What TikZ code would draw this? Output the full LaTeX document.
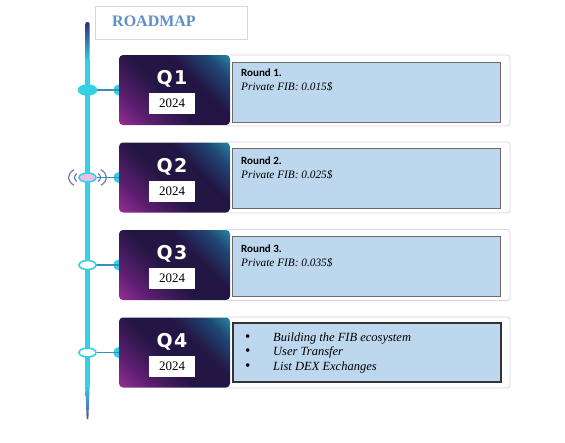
\documentclass[tikz,border=0pt]{standalone}
\usepackage{fontspec}
\setmainfont{Liberation Serif}
\newfontfamily\roundfont{Carlito}
\newfontfamily\qfont[LetterSpace=8]{DejaVu Sans}
\usepackage{tikz}
\usetikzlibrary{positioning,backgrounds,shapes.geometric}

\definecolor{tlcyan}{HTML}{33D0E6}
\definecolor{tlnavy}{HTML}{2B2F7A}
\definecolor{tlpurple}{HTML}{5B4E9E}
\definecolor{linkblue}{HTML}{3B8DB3}
\definecolor{infofill}{HTML}{BDD7EE}
\definecolor{infoline}{HTML}{6B6B6B}
\definecolor{paleline}{HTML}{D9D3E3}
\definecolor{titleblue}{HTML}{5B8FC9}
\definecolor{dotpink}{HTML}{E9BFE3}
\definecolor{wavegray}{HTML}{6A7DA8}
\definecolor{cmag}{HTML}{B235A8}
\definecolor{cplum}{HTML}{5A1E6E}
\definecolor{cnavy}{HTML}{231645}
\definecolor{cblue}{HTML}{1F4775}
\definecolor{cteal}{HTML}{2DB4C2}

\pgfdeclarehorizontalshading{cardshade}{100bp}{color(0bp)=(cmag); color(8bp)=(cmag); color(28bp)=(cplum); color(45bp)=(cnavy); color(62bp)=(cnavy); color(76bp)=(cblue); color(92bp)=(cteal); color(100bp)=(cteal)}

\begin{document}
\begin{tikzpicture}[x=1pt, y=-1pt]
		\tikzstyle{card}=[rounded corners=4pt, shading=cardshade, shading angle=45, minimum width=111pt, minimum height=70pt, inner sep=0pt]
		\tikzstyle{outerbox}=[rounded corners=3pt, draw=paleline, fill=white, line width=0.8pt, minimum width=285pt, minimum height=71pt, inner sep=0pt]
		\tikzstyle{infobox}=[draw=infoline, fill=infofill, line width=0.9pt, minimum width=268pt, minimum height=60pt, inner sep=0pt]
		\tikzstyle{yearbox}=[fill=white, minimum width=46pt, minimum height=21pt, inner sep=0pt, font=\fontsize{13}{13}\selectfont]
		\tikzstyle{qlabel}=[text=white, inner sep=0pt, font=\qfont\bfseries\fontsize{19}{19}\selectfont]
		\tikzstyle{roundlbl}=[anchor=west, inner sep=0pt, font=\roundfont\bfseries\fontsize{11}{11}\selectfont]
		\tikzstyle{pricelbl}=[anchor=west, inner sep=0pt, font=\itshape\fontsize{11.3}{11.3}\selectfont]
		\tikzstyle{tabdot}=[circle, fill=tlcyan, minimum size=11pt, inner sep=0pt]
		\tikzstyle{tldot}=[ellipse, draw=tlcyan, line width=1.6pt, minimum width=17pt, minimum height=9pt, inner sep=0pt]
		\tikzstyle{link}=[draw=linkblue, line width=1.4pt]
		\tikzstyle{wave}=[draw=wavegray, line width=1.2pt]
		\newcommand{\bul}{\makebox[28pt][l]{\upshape\fontsize{15}{0}\selectfont\textbullet}}
		
		\useasboundingbox (0,0) rectangle (565,442);
		
		% title
		\node[draw=paleline, line width=0.8pt, minimum width=152pt, minimum height=33pt] (titlebox) at (171,22.5) {};
		\node[anchor=west, inner sep=0pt, text=titleblue, font=\bfseries\fontsize{16}{16}\selectfont] (title) at (112,21) {ROADMAP};
		
		% timeline
		\shade[top color=tlnavy, bottom color=tlcyan, rounded corners=2pt] (85.3,22) rectangle (89.7,62);
		\fill[tlcyan] (85.3,60) rectangle (89.7,386);
		\shade[top color=tlcyan, bottom color=tlpurple] (85.3,385) -- (89.7,385) -- (88.4,419) -- (86.6,419) -- cycle;
		
		% Q1
		\node[outerbox] (o1) at (367.5,90.5) {};
		\node[infobox] (i1) at (366,92) {};
		\node[card] (q1) at (174.5,90) {};
		\node[qlabel] (q1l) at (172,79) {Q1};
		\node[yearbox] (y1) at (172,103.5) {2024};
		\node[roundlbl] (r1) at (241,73) {Round 1.};
		\node[pricelbl] (p1) at (241,87) {Private FIB: 0.015\$};
		\node[tldot, fill=tlcyan, minimum width=18pt, minimum height=10pt] (d1) at (87.5,90) {};
		
		% Q2
		\node[outerbox] (o2) at (367.5,177.5) {};
		\node[infobox] (i2) at (366,178.5) {};
		\node[card] (q2) at (174.5,177.5) {};
		\node[qlabel] (q2l) at (172,166.5) {Q2};
		\node[yearbox] (y2) at (172,191) {2024};
		\node[roundlbl] (r2) at (241,161) {Round 2.};
		\node[pricelbl] (p2) at (241,175) {Private FIB: 0.025\$};
		\node[tldot, fill=dotpink] (d2) at (87.5,177.5) {};
		\draw[wave] (d2.center) ++(145:13pt and 7pt) arc[start angle=145, end angle=215, x radius=13pt, y radius=7pt];
		\draw[wave] (d2.center) ++(135:19pt and 11pt) arc[start angle=135, end angle=225, x radius=19pt, y radius=11pt];
		\draw[wave] (d2.center) ++(-35:13pt and 7pt) arc[start angle=-35, end angle=35, x radius=13pt, y radius=7pt];
		\draw[wave] (d2.center) ++(-45:19pt and 11pt) arc[start angle=-45, end angle=45, x radius=19pt, y radius=11pt];
		
		% Q3
		\node[outerbox] (o3) at (367.5,265) {};
		\node[infobox] (i3) at (366,266) {};
		\node[card] (q3) at (174.5,265) {};
		\node[qlabel] (q3l) at (172,254) {Q3};
		\node[yearbox] (y3) at (172,278.5) {2024};
		\node[roundlbl] (r3) at (241,248.5) {Round 3.};
		\node[pricelbl] (p3) at (241,262.5) {Private FIB: 0.035\$};
		\node[tldot, fill=white] (d3) at (87.5,265) {};
		
		% Q4
		\node[outerbox] (o4) at (367.5,352.5) {};
		\node[infobox, draw=black!80, line width=1.3pt, minimum height=59pt] (i4) at (367,352.5) {};
		\node[card] (q4) at (174.5,352.5) {};
		\node[qlabel] (q4l) at (172,341.5) {Q4};
		\node[yearbox] (y4) at (172,366) {2024};
		\node[anchor=west, inner sep=0pt, align=left, font=\itshape\fontsize{12.5}{14.5}\selectfont] (b4) at (245,352.5)
			{\bul Building the FIB ecosystem\\
			 \bul User Transfer\\
			 \bul List DEX Exchanges};
		\node[tldot, fill=white] (d4) at (87.5,352.5) {};
		
		% links to the cards
		\begin{pgfonlayer}{background}
			\node[tabdot] (t1) at (q1.west) {};
			\node[tabdot] (t2) at (q2.west) {};
			\node[tabdot] (t3) at (q3.west) {};
			\node[tabdot] (t4) at (q4.west) {};
			\path (d1.center) edge[link] (t1.center);
			\path (d2.center) edge[link] (t2.center);
			\path (d3.center) edge[link] (t3.center);
			\path (d4.center) edge[link] (t4.center);
		\end{pgfonlayer}
		
	\end{tikzpicture}
\end{document}
